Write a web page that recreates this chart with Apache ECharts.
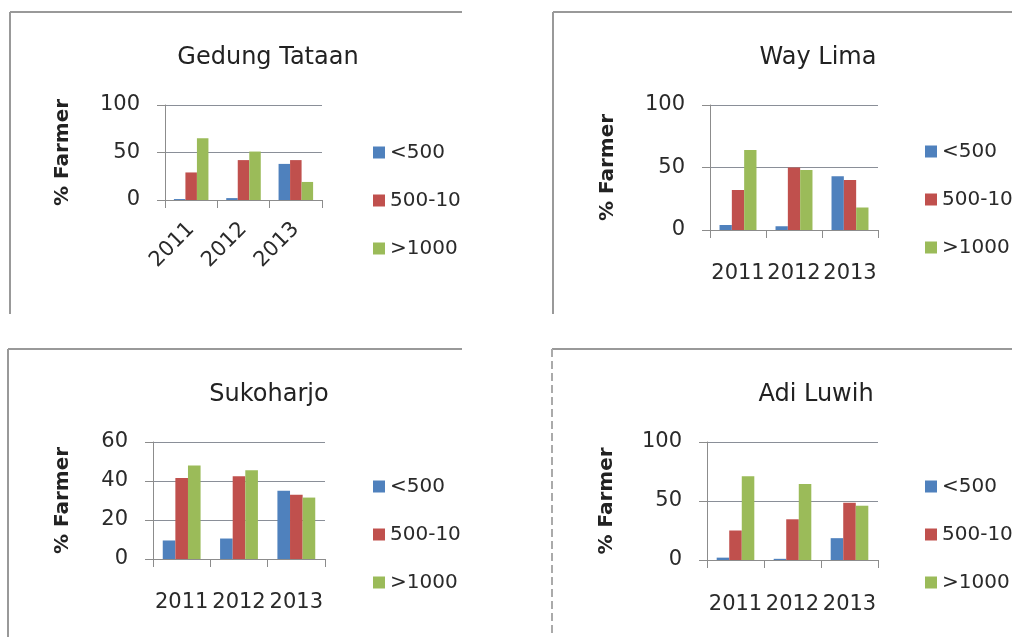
<!DOCTYPE html>
<html>
<head>
<meta charset="utf-8">
<script src="https://cdn.jsdelivr.net/npm/echarts@6/dist/echarts.min.js"></script>
<style>
  html, body { margin: 0; padding: 0; background: #fff; }
  #main { width: 1012px; height: 637px; }
</style>
</head>
<body>
<div id="main"></div>
<script>
// values (% of farmers per land-size group)
var years = ['2011', '2012', '2013'];
var sizeGroups = ['<500', '500-1000', '>1000'];
var districts = ['Gedung Tataan', 'Way Lima', 'Sukoharjo', 'Adi Luwih'];

var gedungTataan = [[1, 2, 38], [29, 42, 42], [65, 51, 19]];
var wayLima = [[4, 3, 43], [32, 50, 40], [64, 48, 18]];
var sukoharjo = [[9.5, 10.5, 35], [41.5, 42.5, 33], [48, 45.5, 31.5]];
var adiLuwih = [[2, 1, 18.5], [25, 34.5, 48.5], [71, 64.5, 46]];

var yMaxes = [100, 100, 60, 100];
var yIntervals = [50, 50, 20, 50];

var districtData = [gedungTataan, wayLima, sukoharjo, adiLuwih];
var colors = ['#4F81BD', '#C0504D', '#9BBB59'];

// panel layout: plot box, title centre, legend spot, label margins
var panels = [
    {grid: {left: 165, top: 105, width: 157, height: 95}, titleX: 263, titleY: 41, legX: 368, legY: 137, rotate: 45, xMargin: 26, nameGap: 92},
    {grid: {left: 710, top: 105, width: 168, height: 125}, titleX: 813, titleY: 41, legX: 920, legY: 136, rotate: 0, xMargin: 33, nameGap: 92},
    {grid: {left: 153, top: 442, width: 172, height: 117}, titleX: 264, titleY: 378, legX: 368, legY: 471, rotate: 0, xMargin: 33, nameGap: 80},
    {grid: {left: 707, top: 442, width: 171, height: 118}, titleX: 811, titleY: 378, legX: 920, legY: 471, rotate: 0, xMargin: 34, nameGap: 90}
];

var font = 'DejaVu Sans';
var gray = '#8c8c8c';

var option = {
    animation: false,
    color: colors,
    title: [], grid: [], xAxis: [], yAxis: [], legend: [], series: []
};

panels.forEach(function(p, i){
    option.title.push({
        text: districts[i],
        left: p.titleX, top: p.titleY, textAlign: 'center',
        textStyle: {fontFamily: font, fontSize: 24, fontWeight: 'normal', color: '#222'}
    });
    option.grid.push(p.grid);
    option.xAxis.push({
        type: 'category', gridIndex: i, data: years,
        axisLine: {lineStyle: {color: gray}},
        axisTick: {show: true, length: 8, lineStyle: {color: gray}},
        axisLabel: {interval: 0, rotate: p.rotate, margin: p.xMargin,
            fontFamily: font, fontSize: 21, color: '#2a2a2a'}
    });
    option.yAxis.push({
        type: 'value', gridIndex: i, min: 0, max: yMaxes[i], interval: yIntervals[i],
        name: '% Farmer', nameLocation: 'middle', nameGap: p.nameGap,
        nameTextStyle: {fontFamily: font, fontSize: 20, fontWeight: 'bold', color: '#222'},
        axisLine: {show: true, lineStyle: {color: gray}},
        axisTick: {show: true, length: 8, lineStyle: {color: gray}},
        splitLine: {lineStyle: {color: '#8a8f98'}},
        axisLabel: {margin: 25, fontFamily: font, fontSize: 21, color: '#2a2a2a'}
    });
    option.legend.push({
        data: sizeGroups, orient: 'vertical', left: p.legX, top: p.legY,
        icon: 'rect', itemWidth: 12, itemHeight: 12, itemGap: 27,
        selectedMode: false,
        textStyle: {fontFamily: font, fontSize: 20, color: '#2a2a2a', lineHeight: 21}
    });
    sizeGroups.forEach(function(g, k){
        option.series.push({
            name: g, type: 'bar', xAxisIndex: i, yAxisIndex: i,
            data: districtData[i][k],
            barGap: '0%', barCategoryGap: '34%',
            itemStyle: {color: colors[k]}
        });
    });
});

// frames of the pasted excel charts, and the white gap that crops the legends
option.graphic = [
    {type: 'rect', z: 100, shape: {x: 462, y: 0, width: 88, height: 637}, style: {fill: '#fff'}},
    {type: 'line', z: 101, shape: {x1: 10, y1: 12, x2: 462, y2: 12}, style: {stroke: '#999', lineWidth: 2}},
    {type: 'line', z: 101, shape: {x1: 10, y1: 12, x2: 10, y2: 314}, style: {stroke: '#999', lineWidth: 2}},
    {type: 'line', z: 101, shape: {x1: 553, y1: 12, x2: 1012, y2: 12}, style: {stroke: '#999', lineWidth: 2}},
    {type: 'line', z: 101, shape: {x1: 553, y1: 12, x2: 553, y2: 314}, style: {stroke: '#999', lineWidth: 2}},
    {type: 'line', z: 101, shape: {x1: 8, y1: 349, x2: 462, y2: 349}, style: {stroke: '#999', lineWidth: 2}},
    {type: 'line', z: 101, shape: {x1: 8, y1: 349, x2: 8, y2: 637}, style: {stroke: '#999', lineWidth: 2}},
    {type: 'line', z: 101, shape: {x1: 552, y1: 349, x2: 1012, y2: 349}, style: {stroke: '#999', lineWidth: 2}},
    {type: 'line', z: 101, shape: {x1: 552, y1: 349, x2: 552, y2: 637}, style: {stroke: '#aaa', lineWidth: 2, lineDash: [8, 4]}}
];

var myChart = echarts.init(document.getElementById('main'));
myChart.setOption(option);
</script>
</body>
</html>
